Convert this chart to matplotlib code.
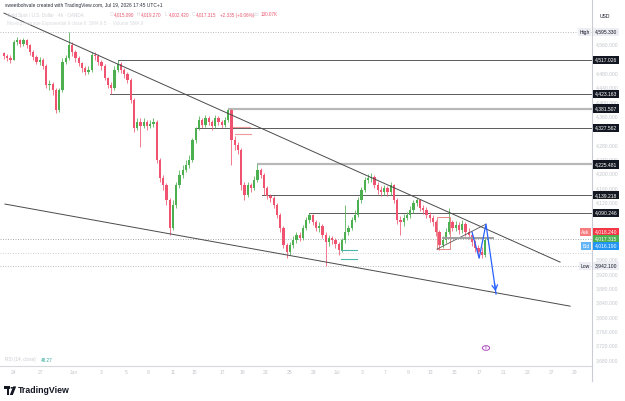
import matplotlib
matplotlib.use('Agg')
import matplotlib.pyplot as plt
from matplotlib.transforms import blended_transform_factory
from matplotlib.patches import Rectangle, Circle, Polygon

plt.rcParams['font.family'] = ['Liberation Sans', 'DejaVu Sans']

# ---------------- data ----------------
first_open = 4537
closes = [4528, 4523, 4517, 4567, 4573, 4562, 4573, 4559, 4540, 4526,
          4512, 4517, 4500, 4447, 4450, 4433, 4378, 4433, 4512, 4523,
          4559, 4540, 4523, 4509, 4495, 4484, 4489, 4531, 4528, 4512,
          4500, 4467, 4447, 4439, 4489, 4506, 4489, 4478, 4461, 4405,
          4327, 4344, 4333, 4344, 4333, 4338, 4344, 4238, 4188, 4168,
          4126, 4048, 4112, 4168, 4196, 4210, 4224, 4238, 4294, 4327.56,
          4350, 4336, 4355, 4344, 4333, 4355, 4344, 4336, 4350, 4378,
          4294, 4280, 4266, 4168, 4140, 4168, 4160, 4182, 4210, 4196,
          4160, 4138, 4132, 4112, 4084, 4048, 4001, 3981, 4001, 4015,
          4029, 4020, 4048, 4070, 4084, 4065, 4048, 4054, 4029, 4009,
          4020, 4015, 4003, 3987, 4015, 4037, 4048, 4070, 4084, 4126,
          4154, 4182, 4188, 4190, 4168, 4154, 4149, 4160, 4149, 4168,
          4126, 4070, 4065, 4076, 4084, 4098, 4118, 4126, 4104, 4098,
          4084, 4076, 4065, 4037, 4001, 4015, 4037, 4065, 4048, 4057,
          4043, 4059, 4037, 4029, 4009, 3992, 3981, 3973, 4015.09, 4017.315]
highs = [4540, 4534, 4531, 4573, 4581, 4576, 4579, 4576, 4562, 4545,
         4531, 4526, 4523, 4506, 4461, 4456, 4439, 4439, 4523, 4531,
         4595.33, 4567, 4545, 4528, 4512, 4500, 4500, 4540, 4540, 4534,
         4517, 4506, 4470, 4456, 4500, 4517.026, 4512, 4495, 4484, 4467,
         4411, 4355, 4355, 4355, 4350, 4350, 4355, 4350, 4244, 4196,
         4174, 4132, 4126, 4177, 4210, 4224, 4238, 4252, 4299, 4330,
         4361, 4355, 4364, 4361, 4350, 4364, 4361, 4350, 4358, 4381.507,
         4379, 4305, 4288, 4272, 4177, 4177, 4174, 4193, 4225.481, 4216,
         4202, 4165, 4143, 4138, 4118, 4090, 4054, 4006, 4009, 4026,
         4037, 4037, 4057, 4079, 4090.246, 4088, 4070, 4065, 4059, 4037,
         4029, 4026, 4020, 4009, 4020, 4112, 4057, 4079, 4098, 4135,
         4163, 4190, 4199, 4202, 4196, 4177, 4165, 4168, 4165, 4177,
         4171, 4132, 4082, 4087, 4093, 4110, 4126, 4132, 4129, 4112,
         4107, 4093, 4084, 4070, 4043, 4026, 4048, 4104, 4070, 4068,
         4065, 4070, 4065, 4048, 4037, 4015, 4001, 3995, 4020, 4019.27]
lows = [4520, 4514, 4509, 4517, 4559, 4553, 4556, 4551, 4531, 4517,
        4506, 4503, 4492, 4439, 4433, 4419, 4369, 4372, 4428, 4506,
        4517, 4528, 4512, 4500, 4484, 4475, 4478, 4484, 4517, 4503,
        4489, 4461, 4439, 4423.163, 4433, 4484, 4481, 4467, 4453, 4397,
        4316, 4322, 4274, 4327, 4322, 4327, 4330, 4230, 4177, 4154,
        4112, 4029, 4043, 4104, 4160, 4188, 4204, 4216, 4232, 4285,
        4322, 4327, 4330, 4336, 4322, 4327, 4336, 4327, 4330, 4344,
        4224, 4266, 4255, 4154, 4126, 4135, 4149, 4154, 4177, 4188,
        4139.218, 4129, 4121, 4104, 4076, 4037, 3992, 3964, 3973, 3992,
        4006, 4012, 4015, 4043, 4062, 4057, 4040, 4037, 4020, 3942.1,
        3998, 4003, 3992, 3973, 3981, 4006, 4029, 4043, 4065, 4079,
        4118, 4149, 4174, 4177, 4160, 4143, 4138, 4140, 4138, 4140,
        4118, 4059, 4029, 4054, 4070, 4076, 4090, 4110, 4096, 4087,
        4076, 4065, 4054, 4026, 3987, 3992, 4006, 4031, 4040, 4040,
        4031, 4034, 4026, 4017, 3998, 3981, 3967, 3964, 3967, 4002.42]

time_labels = ['24', '27', 'Jun', '3', '5', '9', '11', '15', '17', '19', '23', '25',
               '29', 'Jul', '3', '7', '9', '13', '15', '17', '21', '23', '27', '29']
time_pos = [2.8, 11.1, 21.5, 29.8, 37.5, 44.3, 52.0, 58.5, 67.1, 73.5, 80.3, 87.7,
            95.1, 102.5, 110.2, 117.2, 124.3, 131.1, 138.5, 146.2, 153.8, 161.2, 168.6, 175.7]

# faint scale labels that are not hidden behind a price box
price_ticks = [3680, 3720, 3760, 3800, 3840, 3880, 3920, 3960, 4120,
               4160, 4200, 4240, 4280, 4360, 4400, 4440, 4480, 4560]

level_prices = [4517.026, 4423.163, 4381.507, 4327.562, 4225.481, 4139.218, 4090.246]
level_start = [35, 32.6, 69, 59, 78, 79.5, 94]
level_light = [False, False, True, False, True, False, False]

high_price, low_price = 4595.330, 3942.100
last_price, ask_price, bid_price = 4017.315, 4018.240, 4016.190
extra_dotted = 3978

upper_line_x, upper_line_y = [0, 171.1], [4648, 3953]
lower_line_x, lower_line_y = [0.3, 174.2], [4115, 3830]

red_marks = [(70.5, 75.7, 4330), (71.0, 76.0, 4311)]
teal_marks = [(103.7, 108.6, 3987), (103.7, 108.6, 3962)]

box_x, box_y = [133.2, 137.2], [3989, 4079]
tri_x, tri_y = [133.2, 148.3], [3989, 4059]
gray_seg_x, gray_seg_y = [135.0, 150.5], [4020, 4020]

path_x = [144.0, 146.2, 148.3, 151.4]
path_y = [4037, 3964, 4059, 3864]

# ---------------- figure ----------------
W, H = 625, 401
fig = plt.figure(figsize=(W / 100, H / 100), dpi=100)
fig.patch.set_facecolor('white')
AX_BOTTOM = 366
ax = fig.add_axes([0, (H - AX_BOTTOM) / H, 592 / W, AX_BOTTOM / H])
ax.set_facecolor('white')
scale = (high_price - low_price) / (266 - 32)
ax.set_ylim(high_price - (AX_BOTTOM - 32) * scale, high_price + 32 * scale)
ax.set_xlim(-4 / 3.25, 588 / 3.25)

UP = '#4caf50'
DN = '#ef5370'
opens = [first_open] + closes[:-1]
for i, (o, h, l, c) in enumerate(zip(opens, highs, lows, closes)):
    col = UP if c >= o else DN
    ax.vlines(i, l, h, color=col, lw=0.55, zorder=3)
    lo = min(o, c)
    hgt = max(abs(c - o), 2.0)
    ax.add_patch(Rectangle((i - 0.32, lo), 0.64, hgt, fc=col, ec='none', zorder=3))

# trend lines
ax.plot(upper_line_x, upper_line_y, color='#4a4a4a', lw=0.7, zorder=4)
ax.plot(lower_line_x, lower_line_y, color='#4a4a4a', lw=0.7, zorder=4)

# horizontal levels
xmax = ax.get_xlim()[1]
for p, s, light in zip(level_prices, level_start, level_light):
    if light:
        ax.plot([s, xmax], [p, p], color='#b8b8b8', lw=1.6, zorder=2, solid_capstyle='butt')
    else:
        ax.plot([s, xmax], [p, p], color='#5a5a5a', lw=0.7, zorder=2)

# dotted lines
for p, col in [(high_price, '#b2b5be'), (low_price, '#b2b5be'),
               (last_price, '#9aa0a8'), (extra_dotted, '#c8cbd2')]:
    ax.axhline(p, ls=(0, (1.2, 1.8)), color=col, lw=0.6, zorder=1)

for x0, x1, p in red_marks:
    ax.plot([x0, x1], [p, p], color='#ef9a9a', lw=0.8, zorder=4)
for x0, x1, p in teal_marks:
    ax.plot([x0, x1], [p, p], color='#4db6ac', lw=0.8, zorder=4)

# small pattern drawing
ax.add_patch(Rectangle((box_x[0], box_y[0]), box_x[1] - box_x[0], box_y[1] - box_y[0],
                       fill=False, ec='#e57373', lw=0.6, zorder=4))
ax.plot(tri_x, tri_y, color='#555555', lw=0.6, zorder=4)
ax.plot(gray_seg_x, gray_seg_y, color='#a0a0a0', lw=1.4, zorder=4)
ax.plot(path_x, path_y, color='#2962ff', lw=0.9, zorder=5)
ax.annotate('', xy=(path_x[-1], path_y[-1]), xytext=(path_x[-2] + (path_x[-1] - path_x[-2]) * 0.8,
                                                       path_y[-2] + (path_y[-1] - path_y[-2]) * 0.8),
            arrowprops=dict(arrowstyle='->,head_length=0.35,head_width=0.2', color='#2962ff', lw=0.9),
            zorder=5)

# axes styling
for sp in ['left', 'top']:
    ax.spines[sp].set_visible(False)
ax.spines['right'].set_color('#c9ccd3')
ax.spines['right'].set_linewidth(0.8)
ax.spines['bottom'].set_color('#d6d8de')
ax.spines['bottom'].set_linewidth(0.8)
ax.yaxis.tick_right()
ax.set_yticks(price_ticks)
ax.set_yticklabels([f'{v:,.3f}' for v in price_ticks])
ax.tick_params(axis='y', length=0, pad=3, labelsize=3.6, labelcolor='#c4c6cc')
ax.set_xticks(time_pos)
ax.set_xticklabels(time_labels)
ax.tick_params(axis='x', length=0, pad=3, labelsize=3.6, labelcolor='#c4c6cc')

trans = blended_transform_factory(ax.transAxes, ax.transData)


def axis_box(price, text, fc, tc='white', dy_px=0.0, left=False):
    ax.annotate(text, xy=(1, price), xycoords=trans,
                xytext=((-1.6 if left else 2.0), -dy_px * 0.72), textcoords='offset points',
                ha='right' if left else 'left', va='center', fontsize=3.6, color=tc,
                bbox=dict(boxstyle='square,pad=0.32', fc=fc, ec='none'),
                annotation_clip=False, zorder=10)


for p in level_prices:
    axis_box(p, f'{p:,.3f}', '#131722')
axis_box(high_price, f'{high_price:,.3f}', '#eceef4', tc='#131722')
axis_box(high_price, 'High', '#eceef4', tc='#131722', left=True)
axis_box(low_price, f'{low_price:,.3f}', '#eceef4', tc='#131722')
axis_box(low_price, 'Low', '#eceef4', tc='#131722', left=True)
axis_box(last_price, f'{ask_price:,.3f}', '#f23645', dy_px=-7)
axis_box(last_price, 'Ask', '#f77c80', dy_px=-7, left=True)
axis_box(last_price, f'{last_price:,.3f}', '#4caf50')
axis_box(last_price, f'{bid_price:,.3f}', '#2196f3', dy_px=7)
axis_box(last_price, 'Bid', '#64b5f6', dy_px=7, left=True)


def ft(x, y, s, **kw):
    kw.setdefault('va', 'center')
    kw.setdefault('ha', 'left')
    fig.text(x / W, 1 - y / H, s, **kw)


ft(600, 17, 'USD', fontsize=3.6, color='#131722')

# header
ft(5, 5, 'sweetbohvale created with TradingView.com, Jul 19, 2026 17:45 UTC+1', fontsize=3.5, color='#2a2e39')
ft(7, 15, 'Gold Spot / U.S. Dollar · 4h · OANDA', fontsize=3.3, color='#d0d2d8')
RED = '#e8596f'
for x, lab, val in [(110, 'O', '4,015.090'), (137, 'H', '4,019.270'),
                    (165, 'L', '4,002.420'), (192, 'C', '4,017.315')]:
    ft(x, 15, lab, fontsize=3.3, color='#d0d2d8')
    ft(x + 3.5, 15, val, fontsize=3.3, color=RED)
ft(220, 15, '+2.335 (+0.06%)', fontsize=3.3, color=RED)
ft(253, 15, 'Vol', fontsize=3.3, color='#d0d2d8')
ft(261, 15, '130.07K', fontsize=3.3, color=RED)
ft(7, 24, 'Moving Average Exponential 9 close 0  SMA 9 5  ·  Volume SMA 9', fontsize=3.3, color='#d8dade')

# RSI legend
ft(5, 360, 'RSI (14, close)', fontsize=3.3, color='#c8cad0')
ft(41, 360, '48.27', fontsize=3.3, color='#26a69a')

# vertical axis line extension and event icon
fig.add_artist(plt.Line2D([592 / W, 592 / W], [1 - 381 / H, 1 - AX_BOTTOM / H],
                          transform=fig.transFigure, color='#c9ccd3', lw=0.8))
fig.add_artist(Circle((486 / W, 1 - 348 / H), 3.6 / W, transform=fig.transFigure,
                      fc='white', ec='#ab47bc', lw=0.7))
ft(486, 348, 'E', fontsize=2.6, color='#ab47bc', ha='center')

# TradingView logo
LOGO = '#131722'
fig.add_artist(Rectangle((4 / W, 1 - 389 / H), 6 / W, 2.6 / H, transform=fig.transFigure, fc=LOGO, ec='none'))
fig.add_artist(Rectangle((6.8 / W, 1 - 395 / H), 2.6 / W, 8.6 / H, transform=fig.transFigure, fc=LOGO, ec='none'))
fig.add_artist(Circle((11.8 / W, 1 - 387.8 / H), 1.3 / W, transform=fig.transFigure, fc=LOGO, ec='none'))
fig.add_artist(Polygon([(13.2 / W, 1 - 386.4 / H), (16.2 / W, 1 - 386.4 / H),
                        (12.8 / W, 1 - 395 / H), (9.8 / W, 1 - 395 / H)],
                       closed=True, transform=fig.transFigure, fc=LOGO, ec='none'))
ft(18, 390.5, 'TradingView', fontsize=6.3, color=LOGO, fontweight='semibold')

fig.savefig('out.png', dpi=100, facecolor='white')
